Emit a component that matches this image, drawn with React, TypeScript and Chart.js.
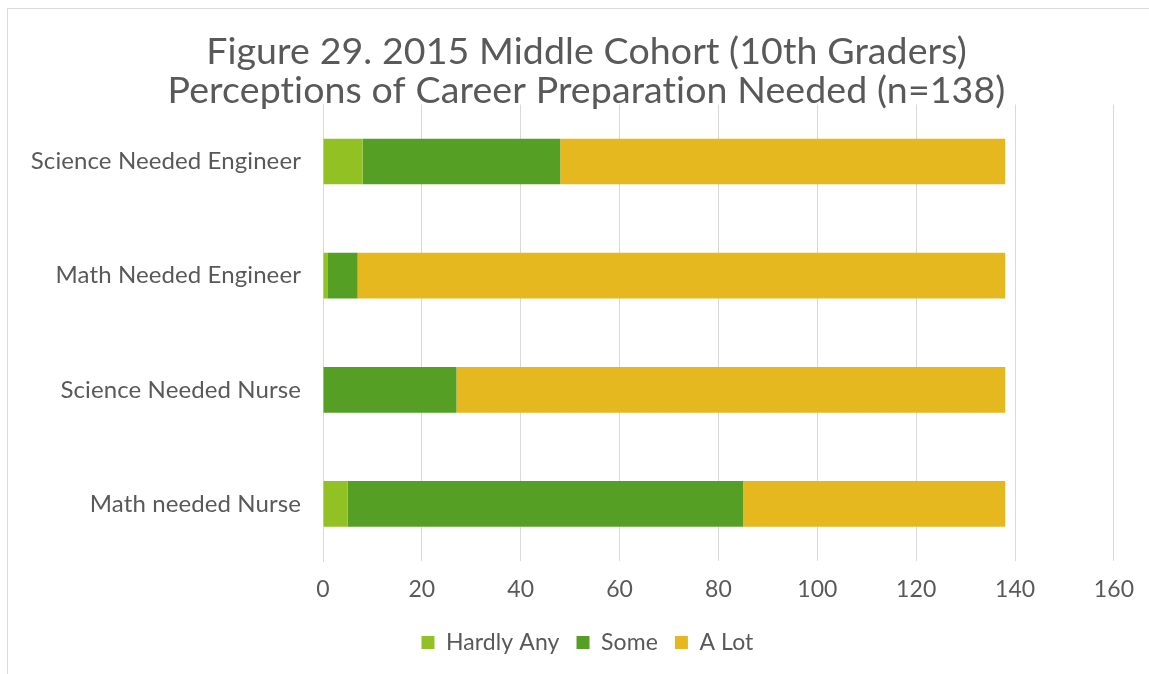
import React, { useEffect, useRef } from "react";
import { Chart, registerables } from "chart.js";

Chart.register(...registerables);

const categories = [
  "Science Needed Engineer",
  "Math Needed Engineer",
  "Science Needed Nurse",
  "Math needed Nurse",
];
const hardlyAny = [8, 1, 0, 5];
const some = [40, 6, 27, 80];
const aLot = [90, 131, 111, 53];
const seriesNames = ["Hardly Any", "Some", "A Lot"];
const titleLines = [
  "Figure 29. 2015 Middle Cohort (10th Graders)",
  "Perceptions of Career Preparation Needed (n=138)",
];
const xMax = 160;
const xStep = 20;

const TEXT = "#595959";
const GRID = "#d9d9d9";
const FONT = "Lato";

const noLigatures = {
  id: "noLigatures",
  beforeDraw(chart: any) {
    try {
      const ctx = chart.ctx as any;
      ctx.textRendering = "optimizeSpeed";
      ctx.letterSpacing = "0.1px";
    } catch (e) {}
  },
};

export default function App() {
  const ref = useRef<HTMLCanvasElement | null>(null);

  useEffect(() => {
    if (!ref.current) return;
    const chart = new Chart(ref.current, {
      type: "bar",
      data: {
        labels: categories,
        datasets: [
          { label: seriesNames[0], data: hardlyAny, backgroundColor: "#92c123" },
          { label: seriesNames[1], data: some, backgroundColor: "#55a024" },
          { label: seriesNames[2], data: aLot, backgroundColor: "#e6b81f" },
        ],
      },
      plugins: [noLigatures],
      options: {
        indexAxis: "y",
        responsive: false,
        animation: false,
        layout: { padding: { left: 55, right: 31, top: 10, bottom: 10 } },
        datasets: {
          bar: { barPercentage: 0.4, categoryPercentage: 1 },
        },
        scales: {
          x: {
            stacked: true,
            min: 0,
            max: xMax,
            ticks: {
              stepSize: xStep,
              color: TEXT,
              font: { family: FONT, size: 23 },
              padding: 15,
            },
            grid: { color: GRID, lineWidth: 1, drawTicks: false },
            border: { display: false },
            afterFit: (scale: any) => {
              scale.height = 53;
            },
          },
          y: {
            stacked: true,
            ticks: {
              color: TEXT,
              font: { family: FONT, size: 24 },
              padding: 22,
            },
            grid: { display: false, drawTicks: false },
            border: { display: true, color: GRID, width: 1 },
            afterFit: (scale: any) => {
              scale.width = 268;
              scale._computeLabelArea = () => undefined;
            },
          },
        },
        plugins: {
          title: {
            display: true,
            text: titleLines,
            color: TEXT,
            font: { family: FONT, size: 37.5, weight: "normal", lineHeight: 1.053 },
            padding: { top: 22, bottom: -6.5 },
          },
          legend: {
            position: "bottom",
            labels: {
              color: TEXT,
              font: { family: FONT, size: 23 },
              boxWidth: 13,
              boxHeight: 13,
              padding: 17,
            },
          },
          tooltip: { enabled: false },
        },
      },
    });
    return () => chart.destroy();
  }, []);

  return (
    <div style={{ position: "fixed", left: 0, top: 0, width: 1149, height: 674, background: "#fff" }}>
      <div
        style={{
          position: "absolute",
          left: 7,
          top: 8,
          right: 0,
          bottom: 0,
          borderTop: "1px solid #d9d9d9",
          borderLeft: "1px solid #d9d9d9",
        }}
      />
      <canvas ref={ref} width={1149} height={674} style={{ position: "absolute", left: 0, top: 0, display: "block" }} />
    </div>
  );
}
